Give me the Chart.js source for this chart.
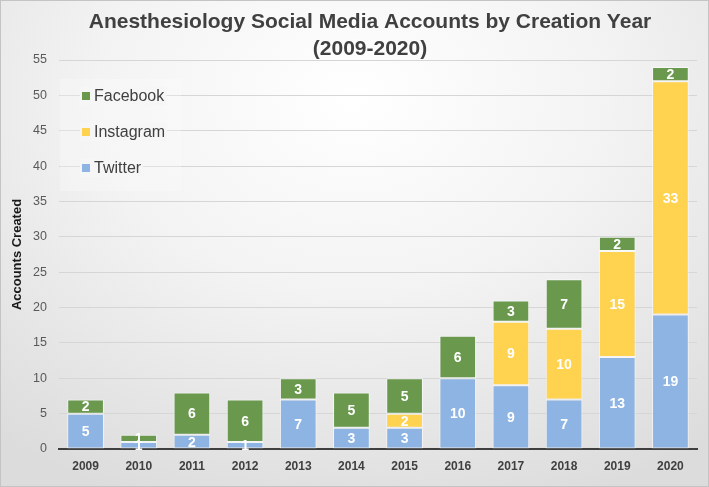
<!DOCTYPE html>
<html>
<head>
<meta charset="utf-8">
<script src="https://cdn.jsdelivr.net/npm/chart.js@4.4.0/dist/chart.umd.min.js"></script>
<style>
html,body{margin:0;padding:0;}
body{width:709px;height:487px;overflow:hidden;}
#wrap{position:relative;width:707px;height:485px;border:1px solid #c4c4c4;
background:radial-gradient(ellipse 80% 90% at 50% 20%, #ffffff 0%, #f3f3f3 45%, #dcdcdc 100%);}
canvas{display:block;}
</style>
</head>
<body>
<div id="wrap"><canvas id="c" width="707" height="485"></canvas></div>
<script>
const years = ['2009','2010','2011','2012','2013','2014','2015','2016','2017','2018','2019','2020'];
const twitter   = [5, 1, 2, 1, 7, 3, 3, 10, 9, 7, 13, 19];
const instagram = [0, 0, 0, 0, 0, 0, 2, 0, 9, 10, 15, 33];
const facebook  = [2, 1, 6, 6, 3, 5, 5, 6, 3, 7, 2, 2];
const titleLines = ['Anesthesiology Social Media Accounts by Creation Year', '(2009-2020)'];
const yTitle = 'Accounts Created';

const C_TW = '#8db4e2', C_IG = '#ffd24f', C_FB = '#6a994e';

const labelPlugin = {
  id: 'segLabels',
  afterDatasetsDraw(chart) {
    const ctx = chart.ctx;
    ctx.save();
    ctx.font = 'bold 14px Arial, "Liberation Sans", sans-serif';
    ctx.fillStyle = '#ffffff';
    ctx.textAlign = 'center';
    ctx.textBaseline = 'middle';
    chart.data.datasets.forEach((ds, i) => {
      const meta = chart.getDatasetMeta(i);
      meta.data.forEach((el, j) => {
        const v = ds.data[j];
        if (!v) return;
        const p = el.getProps(['x', 'y', 'base'], true);
        ctx.fillText(String(v), p.x, (p.y + p.base) / 2 + 1);
      });
    });
    ctx.restore();
  }
};

const legendPlugin = {
  id: 'innerLegend',
  beforeDatasetsDraw(chart) {
    const ctx = chart.ctx;
    ctx.save();
    ctx.fillStyle = 'rgba(255,255,255,0.25)';
    ctx.fillRect(59, 78, 121, 112);
    const items = [
      {t: chart.data.datasets[2].label, c: C_FB, y: 95},
      {t: chart.data.datasets[1].label, c: C_IG, y: 131},
      {t: chart.data.datasets[0].label, c: C_TW, y: 167}
    ];
    ctx.font = '16px Arial, "Liberation Sans", sans-serif';
    ctx.textBaseline = 'middle';
    ctx.textAlign = 'left';
    items.forEach(it => {
      const w = ctx.measureText(it.t).width;
      ctx.fillStyle = 'rgba(246,246,246,0.95)';
      ctx.fillRect(79, it.y - 9, w + 16, 18);
      ctx.fillStyle = it.c;
      ctx.fillRect(81, it.y - 4, 8, 8);
      ctx.fillStyle = '#404040';
      ctx.fillText(it.t, 93, it.y + 1);
    });
    ctx.restore();
  }
};

new Chart(document.getElementById('c'), {
  type: 'bar',
  data: {
    labels: years,
    datasets: [
      {label: 'Twitter', data: twitter, backgroundColor: C_TW, borderColor: 'rgba(255,255,255,0.6)', borderWidth: 1, borderSkipped: false},
      {label: 'Instagram', data: instagram, backgroundColor: C_IG, borderColor: 'rgba(255,255,255,0.6)', borderWidth: 1, borderSkipped: false},
      {label: 'Facebook', data: facebook, backgroundColor: C_FB, borderColor: 'rgba(255,255,255,0.6)', borderWidth: 1, borderSkipped: false}
    ]
  },
  options: {
    responsive: false,
    animation: false,
    devicePixelRatio: 1,
    layout: {padding: {left: 0, right: 11, top: 59, bottom: 0}},
    datasets: {bar: {barPercentage: 0.69, categoryPercentage: 1}},
    plugins: {
      legend: {display: false},
      tooltip: {enabled: false},
      title: {display: false}
    },
    scales: {
      x: {
        stacked: true,
        grid: {display: false, drawTicks: false},
        border: {display: true, color: '#3f3f3f', width: 2},
        ticks: {color: '#404040', font: {family: 'Arial, "Liberation Sans", sans-serif', size: 12, weight: 'bold'}, padding: 10},
        afterFit(s) { s.height = 37; }
      },
      y: {
        stacked: true,
        min: 0, max: 55,
        ticks: {stepSize: 5, color: '#595959', font: {family: 'Arial, "Liberation Sans", sans-serif', size: 12.5}, padding: 12},
        grid: {color: '#d6d6d6', lineWidth: 1, drawTicks: false},
        border: {display: false},
        title: {display: true, text: yTitle, color: '#1a1a1a', font: {family: 'Arial, "Liberation Sans", sans-serif', size: 13, weight: 'bold'}, padding: {top: 9, bottom: 0}},
        afterFit(s) { s.width = 58; }
      }
    }
  },
  plugins: [legendPlugin, labelPlugin, {
    id: 'mainTitle',
    afterDraw(chart) {
      const ctx = chart.ctx;
      ctx.save();
      ctx.font = 'bold 21px Arial, "Liberation Sans", sans-serif';
      ctx.fillStyle = '#404040';
      ctx.textAlign = 'center';
      ctx.textBaseline = 'middle';
      ctx.fillText(titleLines[0], 369, 21);
      ctx.fillText(titleLines[1], 369, 48);
      ctx.restore();
    }
  }]
});
</script>
</body>
</html>
